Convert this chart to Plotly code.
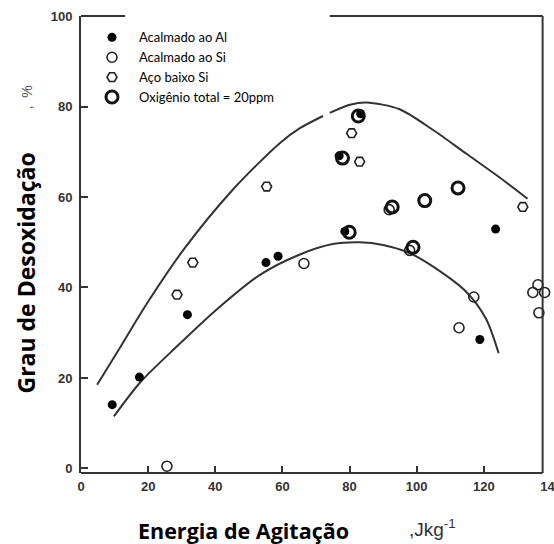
import plotly.graph_objects as go

# ---- data ----
al_x = [9.3, 17.4, 31.7, 55.1, 58.7, 78.6, 76.9, 83.3, 118.8, 123.5]
al_y = [14.1, 20.2, 34.0, 45.5, 46.9, 52.4, 69.1, 78.4, 28.5, 52.9]

si_x = [25.6, 66.4, 117.0, 112.6, 136.1, 134.6, 138.1, 136.4, 91.8, 97.9]
si_y = [0.5, 45.3, 37.9, 31.1, 40.6, 38.9, 38.9, 34.4, 57.2, 48.2]

ba_x = [28.6, 33.3, 55.3, 80.6, 83.0, 131.6]
ba_y = [38.4, 45.5, 62.3, 74.1, 67.8, 57.8]

o20_x = [79.9, 77.9, 82.6, 92.7, 102.4, 112.3, 98.9]
o20_y = [52.2, 68.6, 77.9, 57.8, 59.2, 62.0, 48.9]

upper_a_x = [4.8, 11.6, 19.5, 30.5, 45.2, 59.2, 65.2, 72.1]
upper_a_y = [18.5, 26.7, 36.3, 48.3, 61.6, 71.9, 75.2, 77.9]
upper_b_x = [74.1, 80.1, 85.0, 94.9, 104.9, 114.9, 124.7, 133.0]
upper_b_y = [78.6, 80.4, 80.9, 79.4, 74.8, 69.5, 64.3, 59.6]

lower_x = [9.8, 17.6, 28.6, 40.5, 53.3, 65.2, 75.0, 83.0, 90.0, 97.9, 104.9, 114.8, 120.7, 124.4]
lower_y = [11.5, 19.0, 27.0, 35.2, 42.8, 47.3, 49.6, 50.0, 49.4, 47.6, 44.6, 39.0, 33.0, 25.5]

x_ticks = [0, 20, 40, 60, 80, 100, 120, 140]
y_ticks = [0, 20, 40, 60, 80, 100]

legend_names = ["Acalmado ao Al", "Acalmado ao Si", "Aço baixo Si", "Oxigênio total = 20ppm"]

LINE = "#333333"

fig = go.Figure()

for cx, cy in [(upper_a_x, upper_a_y), (upper_b_x, upper_b_y), (lower_x, lower_y)]:
    fig.add_trace(go.Scatter(x=cx, y=cy, mode="lines", line=dict(color=LINE, width=2, shape="spline", smoothing=0.8),
                             showlegend=False, hoverinfo="skip"))

fig.add_trace(go.Scatter(x=al_x, y=al_y, mode="markers", name=legend_names[0], cliponaxis=False,
                         marker=dict(symbol="circle", size=9, color="black", line=dict(width=0))))
fig.add_trace(go.Scatter(x=si_x, y=si_y, mode="markers", name=legend_names[1], cliponaxis=False,
                         marker=dict(symbol="circle-open", size=10, color="#222", line=dict(width=1.6))))
fig.add_trace(go.Scatter(x=ba_x, y=ba_y, mode="markers", name=legend_names[2], cliponaxis=False,
                         marker=dict(symbol="hexagon2-open", size=10, color="#222", line=dict(width=1.6))))
fig.add_trace(go.Scatter(x=o20_x, y=o20_y, mode="markers", name=legend_names[3], cliponaxis=False,
                         marker=dict(symbol="circle-open", size=12, color="#111", line=dict(width=3))))

# frame pieces (top line is interrupted behind the legend)
shapes = [
    dict(type="line", xref="x", yref="paper", x0=0, x1=137.5, y0=0, y1=0, line=dict(color=LINE, width=2)),
    dict(type="line", xref="x", yref="paper", x0=137.5, x1=137.5, y0=0, y1=1, line=dict(color=LINE, width=2)),
    dict(type="line", xref="x", yref="paper", x0=0, x1=13.1, y0=1, y1=1, line=dict(color=LINE, width=2)),
    dict(type="line", xref="x", yref="paper", x0=74.1, x1=137.5, y0=1, y1=1, line=dict(color=LINE, width=2)),
]

annotations = [
    dict(text="<b>Grau de Desoxidação</b>", xref="paper", yref="paper", x=0, y=0.4365, xshift=-55,
         textangle=-90, showarrow=False, font=dict(family="Open Sans", size=23, color="black"),
         xanchor="center", yanchor="middle"),
    dict(text=",  %", xref="paper", yref="paper", x=0, y=0.822, xshift=-54,
         textangle=-90, showarrow=False, font=dict(family="Liberation Sans", size=14, color="#555"),
         xanchor="center", yanchor="middle"),
    dict(text="<b>Energia de Agitação</b>", xref="paper", yref="paper", x=0.345, y=0, yshift=-57,
         showarrow=False, font=dict(family="Open Sans", size=21.5, color="black"),
         xanchor="center", yanchor="middle"),
    dict(text=",Jkg<sup>-1</sup>", xref="paper", yref="paper", x=0.747, y=0, yshift=-55,
         showarrow=False, font=dict(family="Liberation Sans", size=19, color="#333"),
         xanchor="center", yanchor="middle"),
]

fig.update_layout(
    width=554, height=544,
    margin=dict(l=81, r=3, t=16, b=71, pad=0, autoexpand=False),
    paper_bgcolor="white", plot_bgcolor="white",
    shapes=shapes, annotations=annotations,
    legend=dict(x=0.0085, y=0.986, xanchor="left", yanchor="top", bgcolor="rgba(0,0,0,0)",
                font=dict(family="Lato", size=13, color="black"), itemwidth=44,
                tracegroupgap=0),
    xaxis=dict(range=[0, 140], tickvals=x_ticks, ticktext=[str(v) for v in x_ticks], automargin=False,
               ticks="inside", ticklen=7, tickwidth=1.5, tickcolor=LINE, showgrid=False, zeroline=False,
               showline=False, ticklabelstandoff=4, ticklabeloverflow="allow",
               tickfont=dict(family="Liberation Sans", size=13, color="#333", weight="bold")),
    yaxis=dict(range=[-1, 100], tickvals=y_ticks, ticktext=[str(v) for v in y_ticks], automargin=False,
               ticks="inside", ticklen=7, tickwidth=1.5, tickcolor=LINE, showgrid=False, zeroline=False,
               showline=True, linecolor=LINE, linewidth=2, ticklabelstandoff=4,
               tickfont=dict(family="Liberation Sans", size=13, color="#333", weight="bold")),
)

fig.write_html("out.html")
